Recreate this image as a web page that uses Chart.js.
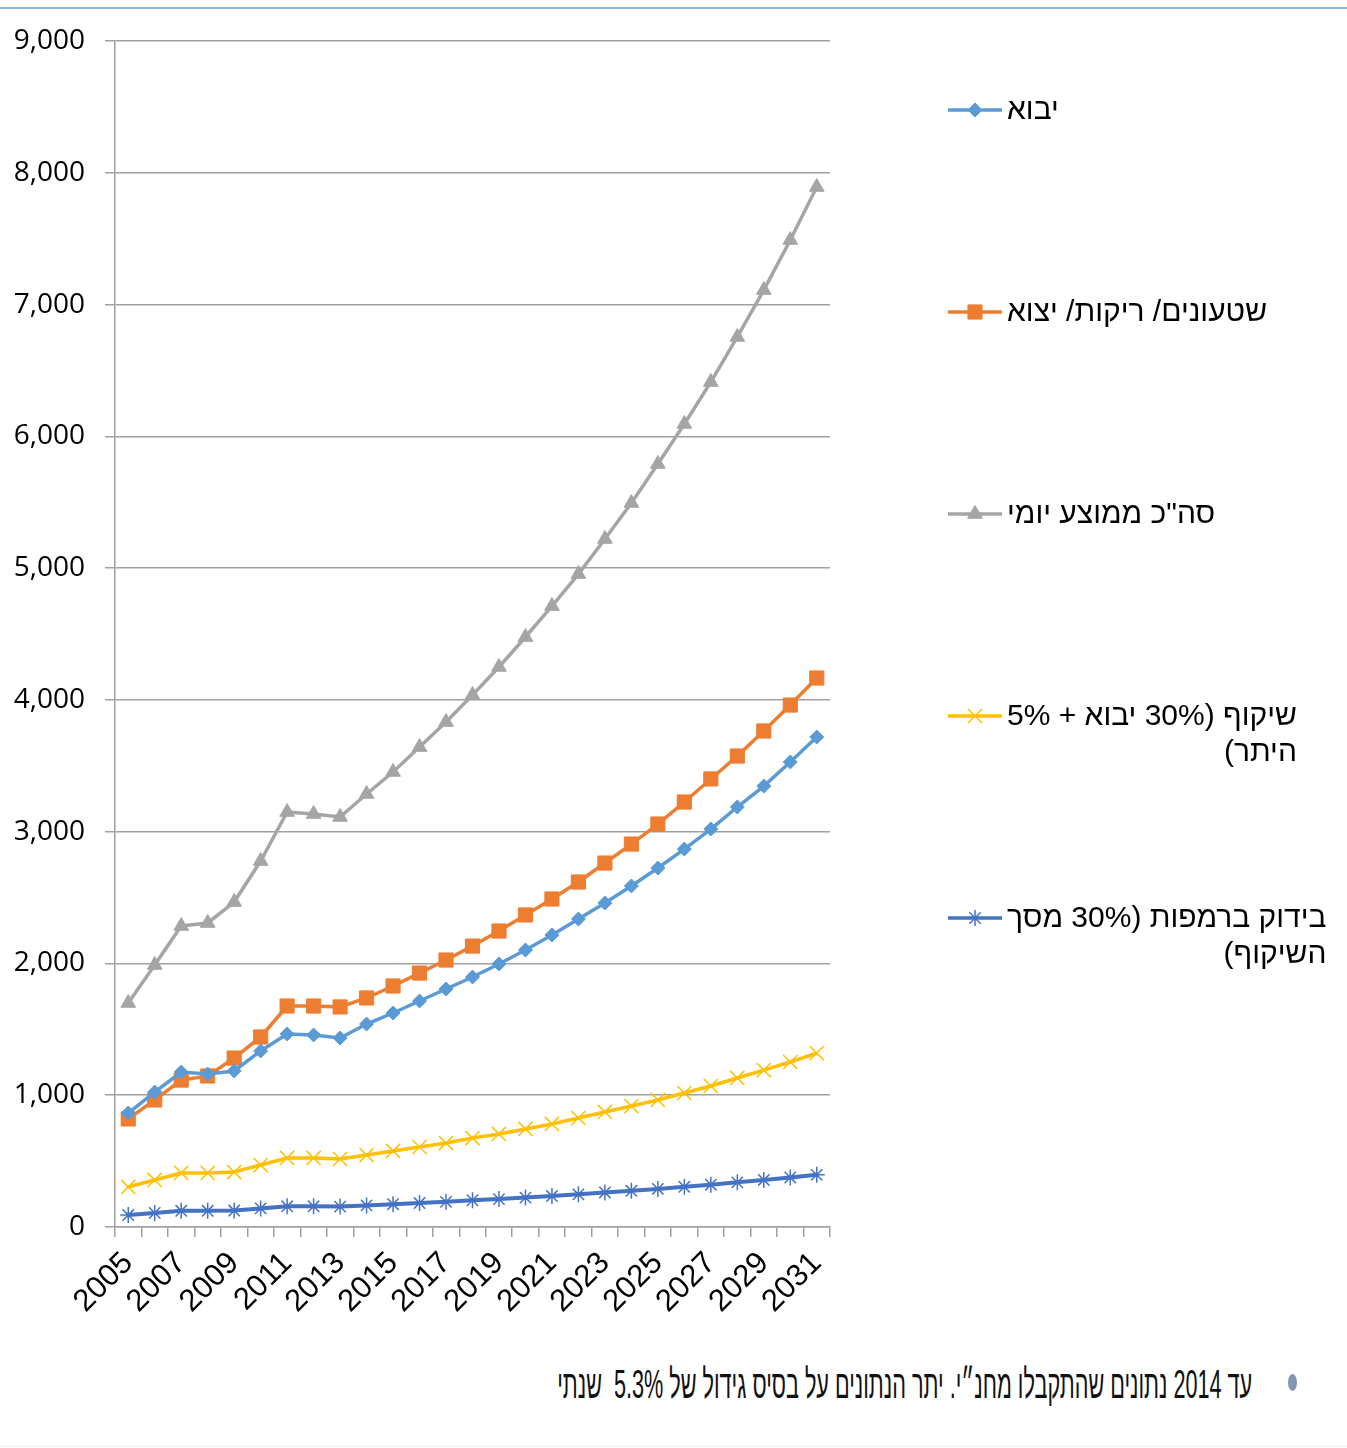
<!DOCTYPE html>
<html lang="he">
<head>
<meta charset="utf-8">
<title>תחזית</title>
<script src="https://cdn.jsdelivr.net/npm/chart.js@4.4.0/dist/chart.umd.min.js"></script>
<style>
  html, body { margin: 0; padding: 0; background: #fff; }
  body { width: 1347px; height: 1448px; position: relative; overflow: hidden; font-family: "Liberation Sans", Arial, sans-serif; }
  .topline { position: absolute; left: 0; top: 7px; width: 1347px; height: 2px; background: #8fb6e2; }
  .bottomline { position: absolute; left: 0; top: 1446px; width: 1347px; height: 1px; background: #efefef; }
  #wrap { position: absolute; left: 0; top: 0; width: 1347px; height: 1340px; }
  .note { position: absolute; top: 1362px; right: 95px; direction: rtl; white-space: pre; font-size: 40px; line-height: 44px; color: #111; transform-origin: right center; }
  .bullet { position: absolute; left: 1288px; top: 1374px; width: 9px; height: 17px; border-radius: 50%; background: #8497b0; }
</style>
</head>
<body>
<div class="topline"></div>
<div id="wrap"><canvas id="grafico" width="1347" height="1340"></canvas></div>
<div class="bullet"></div>
<div class="note" id="nota">עד 2014 נתונים שהתקבלו מחנ״י. יתר הנתונים על בסיס גידול של 5.3%  שנתי</div>
<div class="bottomline"></div>
<script>
const anos = ['2005', '2006', '2007', '2008', '2009', '2010', '2011', '2012', '2013', '2014', '2015', '2016', '2017', '2018',
  '2019', '2020', '2021', '2022', '2023', '2024', '2025', '2026', '2027', '2028', '2029', '2030', '2031'];

const yevu = [865, 1024, 1176, 1161, 1184, 1336, 1465, 1457, 1434, 1540, 1624, 1715, 1806, 1897,
  1996, 2102, 2216, 2337, 2459, 2588, 2724, 2868, 3020, 3187, 3346, 3529, 3718];
const yetzu = [820, 964, 1115, 1146, 1282, 1442, 1677, 1677, 1670, 1738, 1829, 1927, 2026, 2132,
  2246, 2368, 2489, 2618, 2762, 2906, 3058, 3225, 3400, 3574, 3764, 3961, 4166];
const total = [1700, 1988, 2284, 2307, 2466, 2777, 3149, 3134, 3111, 3286, 3453, 3642, 3832, 4037,
  4250, 4477, 4712, 4955, 5221, 5494, 5790, 6094, 6412, 6754, 7110, 7490, 7892];
const shikuf = [304, 357, 410, 410, 417, 470, 524, 524, 516, 546, 577, 607, 637, 675,
  706, 744, 782, 827, 873, 918, 964, 1017, 1070, 1131, 1191, 1252, 1320];
const bidukRampot = [91, 107, 123, 123, 125, 141, 157, 157, 155, 164, 173, 182, 191, 203,
  212, 223, 235, 248, 262, 275, 289, 305, 321, 339, 357, 376, 396];

const nomes = ['יבוא', 'שטעונים/ ריקות/ יצוא', 'סה"כ ממוצע יומי', 'שיקוף (30% יבוא + 5% היתר)', 'בידוק ברמפות (30% מסך השיקוף)'];
const valoresY = [0, 1000, 2000, 3000, 4000, 5000, 6000, 7000, 8000, 9000];

const cinza = '#a0a0a0';

function serie(label, data, cor, estilo, raio, borda, largura) {
  return {
    label: label,
    data: data,
    borderColor: cor,
    backgroundColor: cor,
    borderWidth: largura,
    pointStyle: estilo,
    pointRadius: raio,
    pointHoverRadius: raio,
    pointBackgroundColor: cor,
    pointBorderColor: cor,
    pointBorderWidth: borda,
    tension: 0,
    fill: false
  };
}

// legenda desenhada ao lado, com quebra de linha em RTL
function quebrar(ctx, texto, max) {
  const palavras = texto.split(' ');
  const linhas = [];
  let atual = '';
  palavras.forEach(p => {
    const teste = atual ? atual + ' ' + p : p;
    if (atual && ctx.measureText(teste).width > max) {
      linhas.push(atual);
      atual = p;
    } else {
      atual = teste;
    }
  });
  if (atual) linhas.push(atual);
  return linhas;
}

const legendaLateral = {
  id: 'legendaLateral',
  afterDraw(chart) {
    const ctx = chart.ctx;
    chart.data.datasets.forEach((ds, i) => {
      const y = 110 + i * 202;
      ctx.save();
      ctx.strokeStyle = ds.borderColor;
      ctx.lineWidth = 3.5;
      ctx.beginPath();
      ctx.moveTo(948, y);
      ctx.lineTo(1002, y);
      ctx.stroke();
      ctx.fillStyle = ds.pointBackgroundColor;
      ctx.strokeStyle = ds.pointBorderColor;
      ctx.lineWidth = ds.pointBorderWidth;
      Chart.helpers.drawPoint(ctx, {
        pointStyle: ds.pointStyle,
        radius: ds.pointRadius,
        rotation: 0,
        borderWidth: ds.pointBorderWidth
      }, 975, y);
      ctx.font = '30px "Liberation Sans", Arial, sans-serif';
      ctx.fillStyle = '#000';
      ctx.direction = 'rtl';
      ctx.textAlign = 'right';
      ctx.textBaseline = 'middle';
      const linhas = quebrar(ctx, ds.label, 340);
      const w = Math.max(...linhas.map(l => ctx.measureText(l).width));
      linhas.forEach((l, j) => ctx.fillText(l, 1007 + w, y + 1 + j * 36));
      ctx.restore();
    });
  }
};

const ctx = document.getElementById('grafico').getContext('2d');
new Chart(ctx, {
  type: 'line',
  data: {
    labels: anos,
    datasets: [
      serie(nomes[0], yevu, '#5b9bd5', 'rectRot', 7, 1, 3.5),
      serie(nomes[1], yetzu, '#ed7d31', 'rect', 10, 1, 3.5),
      serie(nomes[2], total, '#a5a5a5', 'triangle', 8.5, 1, 3.5),
      serie(nomes[3], shikuf, '#ffc000', 'crossRot', 10, 1.5, 3.5),
      serie(nomes[4], bidukRampot, '#4472c4', 'star', 8, 1.5, 4)
    ]
  },
  options: {
    responsive: false,
    animation: false,
    layout: { padding: { left: 0, right: 517, top: 41, bottom: 0 } },
    plugins: {
      legend: { display: false },
      tooltip: { enabled: false }
    },
    scales: {
      x: {
        offset: true,
        grid: { offset: true, drawOnChartArea: false, drawTicks: true, tickLength: 10, color: cinza, lineWidth: 1.5 },
        border: { color: cinza, width: 1.5 },
        ticks: {
          autoSkip: false,
          maxRotation: 45,
          minRotation: 45,
          padding: 8,
          color: '#000',
          font: { family: '"Liberation Sans", Arial, sans-serif', size: 31 },
          callback: (v, i) => (i % 2 === 0 ? anos[i] : '')
        },
        afterFit: (scale) => { scale.height = 113; }
      },
      y: {
        min: valoresY[0],
        max: valoresY[valoresY.length - 1],
        afterBuildTicks: (scale) => { scale.ticks = valoresY.map(v => ({ value: v })); },
        grid: { drawTicks: true, tickLength: 10, color: cinza, lineWidth: 1.5 },
        border: { color: cinza, width: 1.5 },
        ticks: {
          padding: 20,
          color: '#000',
          font: { family: '"Open Sans", "Liberation Sans", sans-serif', size: 28 },
          callback: (v) => v.toLocaleString('en-US')
        },
        afterFit: (scale) => { scale.width = 115; }
      }
    }
  },
  plugins: [legendaLateral]
});

// nota de rodapé estreita
const nota = document.getElementById('nota');
const escala = 695 / nota.getBoundingClientRect().width;
nota.style.transform = 'scaleX(' + escala + ')';
</script>
</body>
</html>
